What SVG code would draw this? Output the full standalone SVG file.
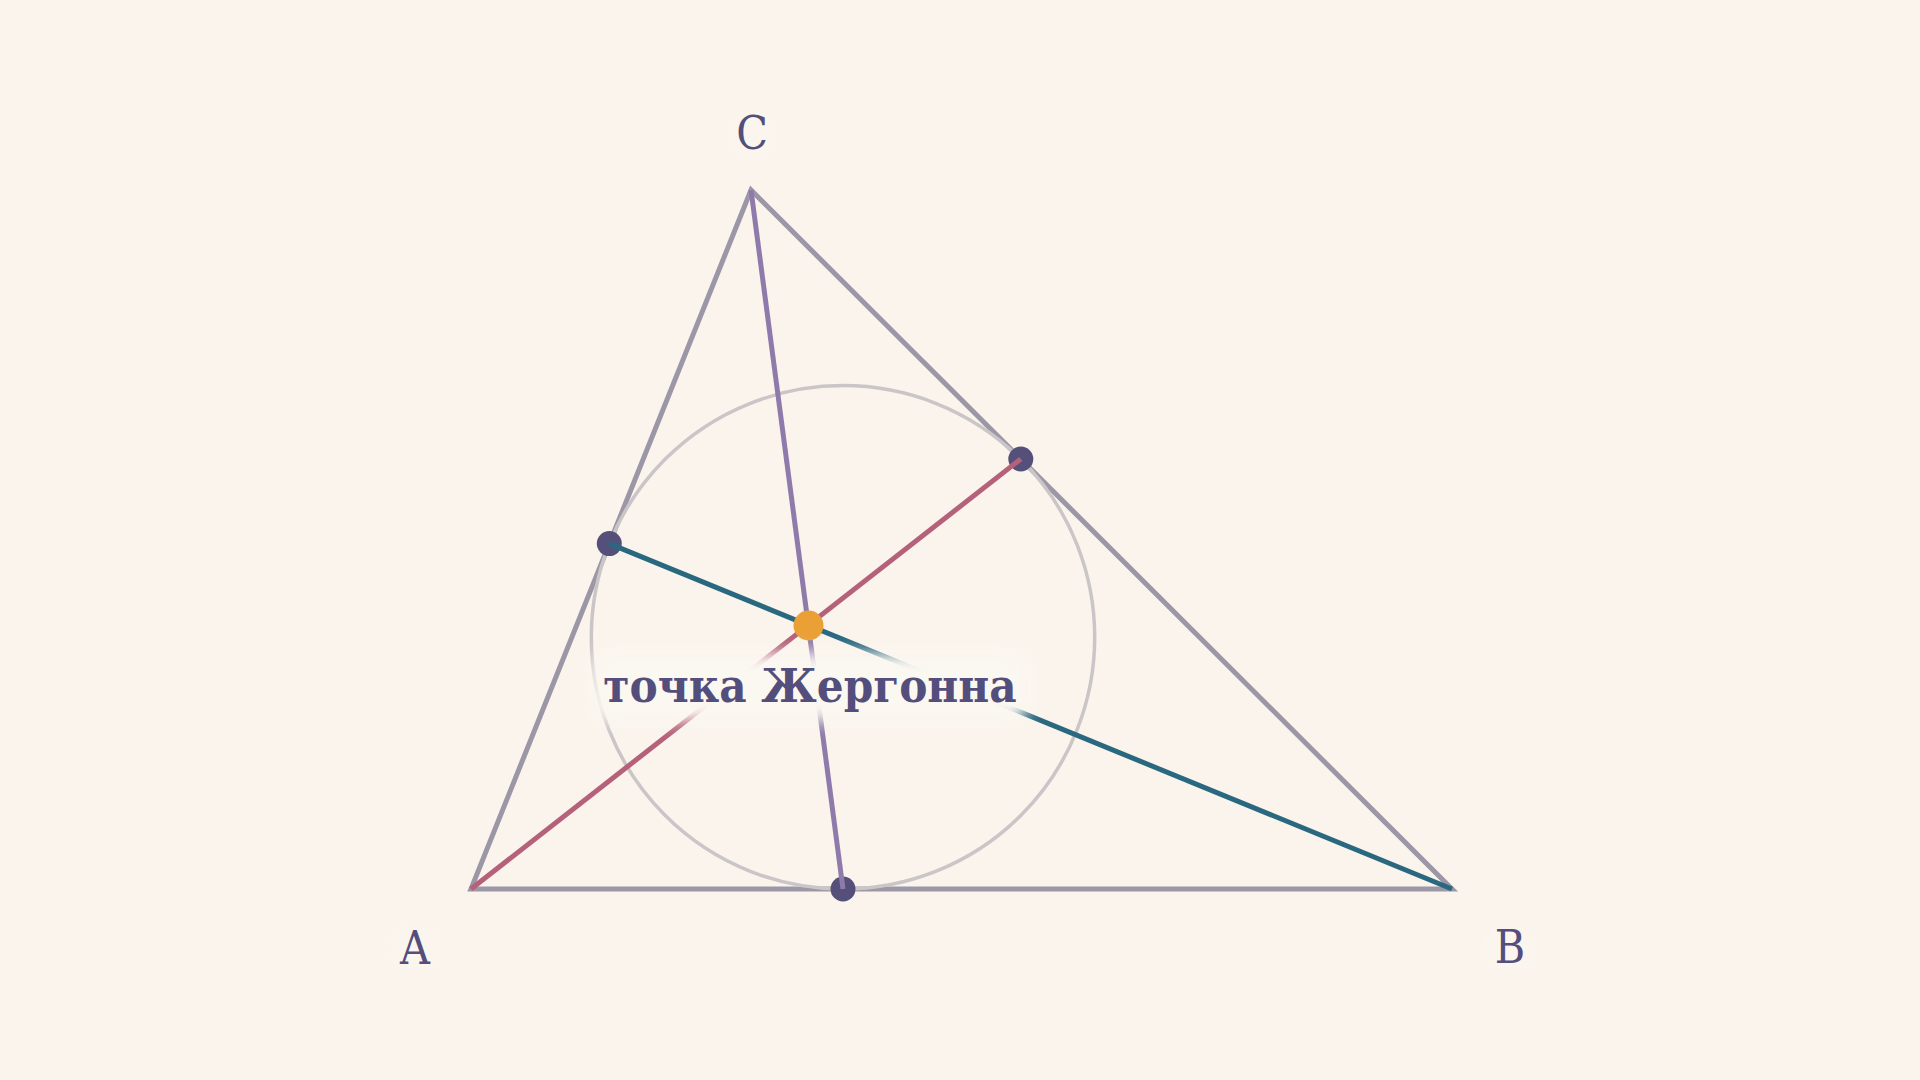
<svg xmlns="http://www.w3.org/2000/svg" width="1920" height="1080" viewBox="0 0 1920 1080">
<defs>
<style>
.tri{fill:none;stroke:#9C97A6;stroke-width:5;stroke-linejoin:miter}
.inc{fill:none;stroke:#CAC6C8;stroke-width:3.5}
.cev{fill:none;stroke-width:5;stroke-linecap:butt}
.touch{fill:#55507A}
.gerg{fill:#EAA035}
.vlab{font-family:"DejaVu Serif Condensed","DejaVu Serif","Liberation Serif",serif;font-stretch:condensed;font-size:46px;fill:#534E7C;text-anchor:middle}
.mlab{font-family:"DejaVu Serif Condensed","DejaVu Serif","Liberation Serif",serif;font-stretch:condensed;font-size:47px;font-weight:bold;fill:#534E7C;text-anchor:middle}
.halo{fill:#FBF7F1}
</style>
<filter id="blur" x="-20%" y="-50%" width="140%" height="200%">
<feGaussianBlur stdDeviation="8"/>
</filter>
</defs>
<rect width="1920" height="1080" fill="#FAF4EC"/>
<g id="triangle">
<polygon class="tri" points="471,889 1452,889 751,190"/>
</g>
<g id="incircle">
<circle class="inc" cx="843" cy="637.3" r="251.7"/>
</g>
<g id="touch-points">
<circle id="touch-ab" class="touch" cx="843" cy="889" r="12.5"/>
<circle id="touch-ac" class="touch" cx="609.3" cy="543.6" r="12.5"/>
<circle id="touch-bc" class="touch" cx="1020.8" cy="459" r="12.5"/>
</g>
<g id="connectors">
<line class="cev" stroke="#8F7BAB" x1="751" y1="190" x2="843" y2="889"/>
<line class="cev" stroke="#B5617A" x1="471" y1="889" x2="1020.8" y2="459"/>
<line class="cev" stroke="#2A6880" x1="1452" y1="889" x2="609.3" y2="543.6"/>
</g>
<g id="gergonne-point">
<circle class="gerg" cx="808.5" cy="625.5" r="15"/>
</g>
<g id="label-gergonne">
<rect class="halo" x="592" y="653" width="436" height="68" rx="14" filter="url(#blur)"/>
<text class="mlab" x="810" y="702">точка Жергонна</text>
</g>
<g id="label-C">
<rect class="halo" x="728" y="116" width="48" height="40" rx="12" filter="url(#blur)" opacity="0.4"/>
<text class="vlab" x="752" y="149">C</text>
</g>
<g id="label-A">
<rect class="halo" x="391" y="928" width="48" height="40" rx="12" filter="url(#blur)" opacity="0.4"/>
<text class="vlab" x="415" y="964">A</text>
</g>
<g id="label-B">
<rect class="halo" x="1486" y="928" width="48" height="40" rx="12" filter="url(#blur)" opacity="0.4"/>
<text class="vlab" x="1510" y="963">B</text>
</g>
</svg>
